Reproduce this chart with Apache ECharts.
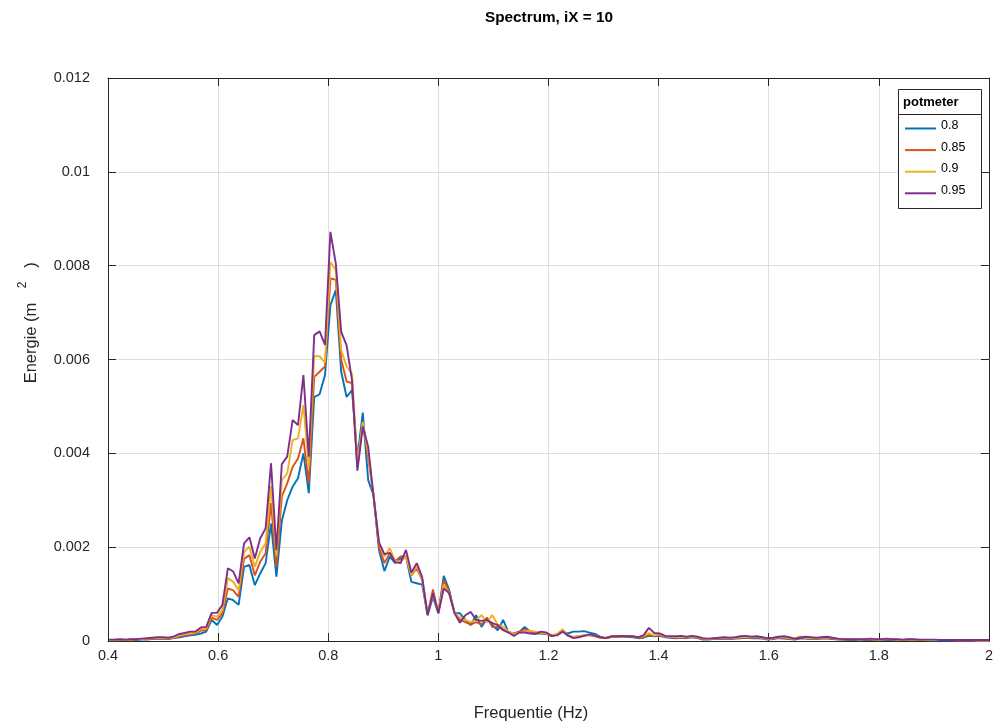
<!DOCTYPE html>
<html>
<head>
<meta charset="utf-8">
<title>Spectrum, iX = 10</title>
<script src="https://cdn.jsdelivr.net/npm/echarts@6/dist/echarts.min.js"></script>
<style>
  html, body { margin: 0; padding: 0; background: #ffffff; }
  #chart { width: 996px; height: 724px; }
</style>
</head>
<body>
<div id="chart"></div>
<script>
// Frequency bins of the spectrum (bin spacing 1/102 Hz), 0.40 .. 2.00 Hz
const binStart = 41;
const binEnd = 204;
const freqs = [];
for (let k = binStart; k <= binEnd; k++) freqs.push(k / 102);

const legendTitle = 'potmeter';
const seriesNames = ['0.8', '0.85', '0.9', '0.95'];
const xTicks = [0.4, 0.6, 0.8, 1.0, 1.2, 1.4, 1.6, 1.8, 2.0];
const yTicks = [0, 0.002, 0.004, 0.006, 0.008, 0.01, 0.012];

// Spectral energy per bin (m^2) for each potmeter setting
const pot080 = [
  0.00001,0.00001,0.00002,0.00002,0.00002,0.00002,0.00003,0.00003,0.00004,0.00005,
  0.00004,0.00004,0.00006,0.00008,0.0001,0.00012,0.00013,0.00016,0.0002,0.00045,
  0.00034,0.00052,0.00091,0.00087,0.00077,0.00158,0.00162,0.00119,0.00144,0.00166,
  0.0025,0.00137,0.00256,0.0030,0.00329,0.00347,0.0040,0.00315,0.0052,0.00526,
  0.00567,0.00716,0.00748,0.00574,0.0052,0.00535,0.0039,0.00487,0.00343,0.0031,
  0.00194,0.00149,0.0018,0.00166,0.00176,0.0018,0.00126,0.00123,0.0012,0.00055,
  0.00094,0.00059,0.00139,0.00109,0.0006,0.00059,0.00045,0.00034,0.00055,0.0003,
  0.00048,0.00034,0.00023,0.00045,0.00018,0.00016,0.0002,0.0003,0.0002,0.00016,
  0.00016,0.00015,0.00012,0.00014,0.0002,0.00016,0.0002,0.0002,0.00021,0.00018,
  0.00015,0.00009,0.00006,0.00009,0.00009,0.0001,0.00009,0.00008,0.00006,0.00007,
  0.00011,0.0001,0.00011,0.00008,0.00007,0.00006,0.00007,0.00006,0.00008,0.00006,
  0.00003,0.00003,0.00004,0.00004,0.00005,0.00004,0.00005,0.00006,0.00007,0.00006,
  0.00006,0.00005,0.00003,0.00004,0.00006,0.00005,0.00004,0.00003,0.00005,0.00005,
  0.00004,0.00004,0.00005,0.00005,0.00004,0.00003,0.00003,0.00002,0.00002,0.00002,
  0.00002,0.00002,0.00002,0.00002,0.00002,0.00002,0.00002,0.00002,0.00002,0.00002,
  0.00002,0.00002,0.00001,0.00001,0.00001,0.00001,0.00001,0.00001,0.00001,0.00001,0.00001,0.00001,0.00001,0.00001
];
const pot085 = [
  0.00002,0.00002,0.00003,0.00002,0.00003,0.00003,0.00004,0.00004,0.00005,0.00006,
  0.00005,0.00005,0.00007,0.0001,0.00012,0.00014,0.00016,0.00022,0.00023,0.0005,
  0.00045,0.00059,0.00112,0.00108,0.00094,0.00175,0.00183,0.0014,0.00169,0.00187,
  0.00294,0.00158,0.00308,0.00336,0.00371,0.00389,0.00432,0.00336,0.00563,0.00574,
  0.00585,0.00773,0.0077,0.006,0.00553,0.0055,0.0037,0.00465,0.0039,0.0031,
  0.0020,0.00166,0.00187,0.0017,0.0018,0.0018,0.0014,0.00155,0.0013,0.00058,
  0.0011,0.0006,0.0013,0.00105,0.0006,0.00045,0.0004,0.00035,0.0004,0.00035,
  0.0005,0.0003,0.0003,0.00025,0.0002,0.00015,0.0002,0.00025,0.0002,0.00018,
  0.00017,0.00015,0.0001,0.00014,0.00023,0.00011,0.00008,0.0001,0.00012,0.00012,
  0.0001,0.00007,0.00006,0.00008,0.00009,0.00009,0.0001,0.00009,0.00007,0.00008,
  0.00013,0.00011,0.00012,0.00009,0.00008,0.00007,0.00008,0.00007,0.00009,0.00007,
  0.00004,0.00004,0.00005,0.00005,0.00006,0.00005,0.00006,0.00007,0.00008,0.00007,
  0.00008,0.00006,0.00004,0.00005,0.00007,0.00007,0.00005,0.00004,0.00008,0.00006,
  0.00005,0.00005,0.00006,0.00006,0.00005,0.00004,0.00003,0.00003,0.00003,0.00003,
  0.00003,0.00003,0.00003,0.00003,0.00003,0.00003,0.00003,0.00002,0.00003,0.00003,
  0.00002,0.00002,0.00002,0.00002,0.00002,0.00002,0.00002,0.00001,0.00001,0.00001,0.00001,0.00001,0.00001,0.00001
];
const pot090 = [
  0.00002,0.00003,0.00003,0.00003,0.00003,0.00004,0.00004,0.00005,0.00006,0.00007,
  0.00006,0.00006,0.00008,0.00012,0.00014,0.00016,0.00018,0.00025,0.00027,0.00055,
  0.00052,0.00066,0.00134,0.00126,0.00108,0.0019,0.00201,0.00158,0.0019,0.00208,
  0.0033,0.0018,0.00343,0.00357,0.00428,0.00432,0.00503,0.00371,0.00607,0.00607,
  0.00593,0.00808,0.0079,0.0062,0.00585,0.0057,0.0038,0.00467,0.004,0.0031,
  0.0021,0.0018,0.00198,0.0017,0.0017,0.0018,0.0014,0.0016,0.0013,0.00057,
  0.001,0.0006,0.0012,0.001,0.0006,0.0005,0.00045,0.0004,0.00045,0.00055,
  0.0004,0.00055,0.00035,0.0003,0.0002,0.00015,0.00018,0.0002,0.00022,0.0002,
  0.00018,0.00016,0.00012,0.00015,0.00025,0.00012,0.00009,0.0001,0.00012,0.00013,
  0.00012,0.00008,0.00007,0.00009,0.0001,0.0001,0.00011,0.0001,0.00008,0.0001,
  0.00017,0.00012,0.00014,0.0001,0.00009,0.00008,0.00009,0.00008,0.0001,0.00008,
  0.00005,0.00004,0.00005,0.00006,0.00007,0.00006,0.00007,0.00008,0.00009,0.00008,
  0.00009,0.00007,0.00005,0.00006,0.00008,0.00008,0.00006,0.00005,0.0001,0.00007,
  0.00006,0.00006,0.00007,0.00008,0.00006,0.00005,0.00004,0.00004,0.00004,0.00003,
  0.00004,0.00004,0.00003,0.00003,0.00004,0.00004,0.00003,0.00003,0.00003,0.00003,
  0.00003,0.00002,0.00002,0.00002,0.00002,0.00002,0.00002,0.00002,0.00002,0.00002,0.00002,0.00001,0.00001,0.00001
];
const pot095 = [
  0.00003,0.00003,0.00004,0.00003,0.00004,0.00004,0.00005,0.00006,0.00007,0.00008,
  0.00008,0.00007,0.0001,0.00015,0.00017,0.0002,0.0002,0.00029,0.0003,0.0006,
  0.0006,0.00077,0.00155,0.00148,0.00123,0.00208,0.00221,0.00176,0.00219,0.0024,
  0.00379,0.00194,0.00377,0.00393,0.00471,0.0046,0.00567,0.00393,0.00652,0.0066,
  0.00631,0.00872,0.00805,0.00659,0.0063,0.00556,0.00363,0.00457,0.00414,0.00308,
  0.0021,0.00185,0.00188,0.00168,0.00166,0.00194,0.00146,0.00166,0.00136,0.00055,
  0.00102,0.00059,0.00112,0.00102,0.00059,0.00039,0.00055,0.00062,0.00045,0.00043,
  0.00045,0.00038,0.00034,0.00023,0.00018,0.00011,0.00018,0.00018,0.00016,0.00015,
  0.0002,0.00018,0.00011,0.00012,0.0002,0.00012,0.00006,0.00008,0.00011,0.00014,
  0.00012,0.00008,0.00006,0.0001,0.0001,0.00011,0.0001,0.0001,0.00008,0.00012,
  0.00028,0.00017,0.00016,0.00011,0.0001,0.0001,0.00011,0.00009,0.00011,0.00009,
  0.00006,0.00005,0.00006,0.00007,0.00008,0.00007,0.00008,0.0001,0.00011,0.00009,
  0.0001,0.00008,0.00006,0.00007,0.00009,0.0001,0.00008,0.00005,0.00007,0.00009,
  0.00008,0.00007,0.00008,0.00009,0.00007,0.00005,0.00004,0.00004,0.00004,0.00004,
  0.00004,0.00005,0.00004,0.00004,0.00005,0.00004,0.00004,0.00003,0.00004,0.00004,
  0.00003,0.00003,0.00003,0.00003,0.00002,0.00002,0.00002,0.00002,0.00002,0.00002,0.00002,0.00002,0.00002,0.00002
];

const seriesValues = [pot080, pot085, pot090, pot095];
const seriesColors = ['#0072BD', '#D95319', '#EDB120', '#7E2F8E'];

const FONT = "'Liberation Sans', Arial, Helvetica, sans-serif";
const INK = '#262626';

const plot = { left: 108, top: 78, width: 882, height: 563 };

function fmt(v) {
  return String(parseFloat(Number(v).toFixed(4)));
}

const chart = echarts.init(document.getElementById('chart'), null, { renderer: 'canvas' });

const tickStyle = { show: true, inside: true, length: 8, lineStyle: { color: INK, width: 1 } };
const frameLine = { show: true, onZero: false, lineStyle: { color: INK, width: 1 } };
const gridLine = { show: true, lineStyle: { color: '#dedede', width: 1 } };

const option = {
  animation: false,
  backgroundColor: '#ffffff',
  grid: { left: plot.left, top: plot.top, width: plot.width, height: plot.height, containLabel: false },
  xAxis: [
    {
      type: 'value', min: xTicks[0], max: xTicks[xTicks.length - 1], interval: 0.2,
      position: 'bottom',
      axisLine: frameLine,
      axisTick: tickStyle,
      axisLabel: { color: INK, fontFamily: FONT, fontSize: 14.5, margin: 7, formatter: fmt },
      splitLine: gridLine
    },
    {
      type: 'value', min: xTicks[0], max: xTicks[xTicks.length - 1], interval: 0.2,
      position: 'top',
      axisLine: frameLine,
      axisTick: tickStyle,
      axisLabel: { show: false },
      splitLine: { show: false }
    }
  ],
  yAxis: [
    {
      type: 'value', min: yTicks[0], max: yTicks[yTicks.length - 1], interval: 0.002,
      position: 'left',
      axisLine: frameLine,
      axisTick: tickStyle,
      axisLabel: { color: INK, fontFamily: FONT, fontSize: 14.5, margin: 18, formatter: fmt },
      splitLine: gridLine
    },
    {
      type: 'value', min: yTicks[0], max: yTicks[yTicks.length - 1], interval: 0.002,
      position: 'right',
      axisLine: frameLine,
      axisTick: tickStyle,
      axisLabel: { show: false },
      splitLine: { show: false }
    }
  ],
  legend: {
    orient: 'vertical',
    left: 905,
    top: 119,
    padding: 0,
    itemWidth: 31,
    itemHeight: 2,
    itemGap: 2.6,
    icon: 'rect',
    selectedMode: false,
    z: 10,
    data: seriesNames,
    formatter: '{t|{name}}',
    textStyle: {
      color: '#000000',
      rich: {
        t: { color: '#000000', fontFamily: FONT, fontSize: 12.5, lineHeight: 14, padding: [0, 0, 6, 0] }
      }
    }
  },
  graphic: [
    {
      type: 'text', z: 10, x: 549, y: 18,
      style: { text: 'Spectrum, iX = 10', fill: '#000000', font: 'bold 15.3px ' + FONT, textAlign: 'center', textVerticalAlign: 'middle' }
    },
    {
      type: 'text', z: 10, x: 531, y: 713,
      style: { text: 'Frequentie (Hz)', fill: INK, font: '16.5px ' + FONT, textAlign: 'center', textVerticalAlign: 'middle' }
    },
    {
      type: 'text', z: 10, x: 31, y: 343, rotation: Math.PI / 2,
      style: { text: 'Energie (m', fill: INK, font: '16.5px ' + FONT, textAlign: 'center', textVerticalAlign: 'middle' }
    },
    {
      type: 'text', z: 10, x: 23, y: 285, rotation: Math.PI / 2,
      style: { text: '2', fill: INK, font: '12px ' + FONT, textAlign: 'center', textVerticalAlign: 'middle' }
    },
    {
      type: 'text', z: 10, x: 31, y: 265, rotation: Math.PI / 2,
      style: { text: ')', fill: INK, font: '16.5px ' + FONT, textAlign: 'center', textVerticalAlign: 'middle' }
    },
    {
      type: 'rect', z: 8,
      shape: { x: 898.5, y: 89.5, width: 83, height: 119 },
      style: { fill: '#ffffff', stroke: INK, lineWidth: 1 }
    },
    {
      type: 'line', z: 9,
      shape: { x1: 898.5, y1: 114.5, x2: 981.5, y2: 114.5 },
      style: { stroke: INK, lineWidth: 1 }
    },
    {
      type: 'text', z: 10, x: 903, y: 102,
      style: { text: legendTitle, fill: '#000000', font: 'bold 13px ' + FONT, textAlign: 'left', textVerticalAlign: 'middle' }
    }
  ],
  series: seriesNames.map((name, i) => ({
    name: name,
    type: 'line',
    xAxisIndex: 0,
    yAxisIndex: 0,
    showSymbol: false,
    symbol: 'none',
    clip: true,
    z: 2 + i,
    color: seriesColors[i],
    lineStyle: { color: seriesColors[i], width: 1.9 },
    data: freqs.map((f, j) => [f, seriesValues[i][j]])
  }))
};

chart.setOption(option);
</script>
</body>
</html>
